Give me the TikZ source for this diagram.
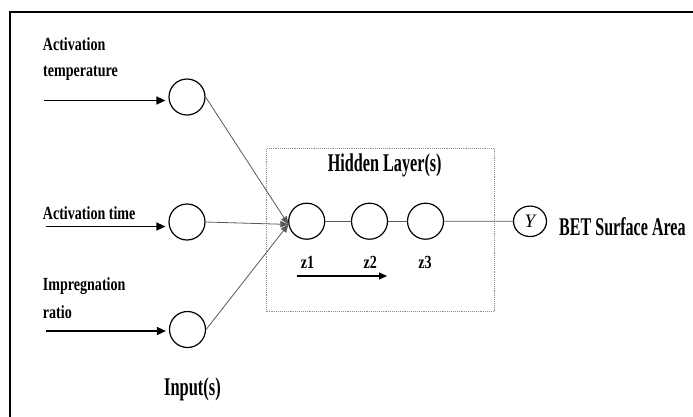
\documentclass[tikz,border=0pt]{standalone}
\usepackage{fontspec}
\setmainfont{Liberation Serif}
\usetikzlibrary{arrows.meta,shapes.geometric}
\newcommand\narrow[2]{\scalebox{#1}[1]{#2}}
\tikzset{
  smalltext/.style={inner sep=0pt, anchor=base west,
    font=\fontsize{18.5}{20}\selectfont\bfseries},
  bigtext/.style={inner sep=0pt, anchor=base,
    font=\fontsize{25.5}{28}\selectfont\bfseries},
  neuron/.style={circle, draw=black, line width=1.2pt, minimum size=36pt, inner sep=0pt},
  outneuron/.style={ellipse, draw=black, line width=1.2pt, minimum width=33pt,
    minimum height=30.5pt, inner sep=0pt, font=\fontsize{19}{20}\selectfont\itshape},
  feed/.style={line width=1.5pt, -{Triangle[length=9pt,width=8pt]}},
  link/.style={line width=0.8pt, draw=black!65},
  linkarrow/.style={link, -{Triangle[length=8pt,width=6.5pt]}, draw=black!65},
  hidbox/.style={draw=black!45, densely dotted, line width=0.9pt, inner sep=0pt},
  frame/.style={line width=2.2pt, draw=black}
}
\begin{document}
\begin{tikzpicture}[x=1pt,y=-1pt]
\useasboundingbox (0,0) rectangle (693,416);
\fill[white] (0,0) rectangle (693,416);
% outer frame (left and top edges inside the page)
\draw[frame] (10,420) |- (700,12);

% input neurons
\node[neuron] (in1) at (187,97) {};
\node[neuron] (in2) at (187,222) {};
\node[neuron] (in3) at (187.5,329.5) {};

% input labels
\node[smalltext] (l1a) at (42.7,50.7) {\narrow{0.76}{Activation}};
\node[smalltext] (l1b) at (43,76.5) {\narrow{0.76}{temperature}};
\node[smalltext] (l2) at (42.7,219.3) {\narrow{0.76}{Activation time}};
\node[smalltext] (l3a) at (42.7,290) {\narrow{0.76}{Impregnation}};
\node[smalltext] (l3b) at (42.7,318) {\narrow{0.76}{ratio}};

% feeding arrows
\coordinate (s1) at (44,100.5);
\coordinate (s2) at (46,226.5);
\coordinate (s3) at (46,331);
\draw[feed, shorten >=3pt] (s1) -- (s1 -| in1.west);
\draw[feed, shorten >=3pt] (s2) -- (s2 -| in2.west);
\draw[feed, shorten >=3pt] (s3) -- (s3 -| in3.west);

% hidden layer box
\node[hidbox, minimum width=227.6pt, minimum height=163.4pt] (hbox) at (380.5,230) {};
\node[bigtext] (htitle) at (384.7,171.7) {\narrow{0.635}{Hidden Layer(s)}};

% hidden neurons
\node[neuron] (h1) at (306.7,221.2) {};
\node[neuron] (h2) at (369.5,221.2) {};
\node[neuron] (h3) at (425.5,221.2) {};
\node[smalltext, anchor=base] (z1) at (307.5,268.3) {\narrow{0.76}{z1}};
\node[smalltext, anchor=base] (z2) at (370.3,268.3) {\narrow{0.76}{z2}};
\node[smalltext, anchor=base] (z3) at (425,268.3) {\narrow{0.76}{z3}};
\coordinate (za) at (296.7,276);
\coordinate (zb) at (387,276);
\draw[line width=1.2pt, -{Triangle[length=8pt,width=7pt]}] (za) -- (zb);

% output neuron
\node[outneuron] (yout) at (530,221.3) {Y};
\node[bigtext, anchor=base west] (ylbl) at (559,235) {\narrow{0.63}{BET Surface Area}};

% connections
\draw[linkarrow] (in1.east) -- (h1.190);
\draw[linkarrow] (in2.east) -- (h1.190);
\draw[linkarrow] (in3.east) -- (h1.190);
\draw[link] (h1) -- (h2);
\draw[link] (h2) -- (h3);
\draw[link] (h3) -- (yout);

% layer caption
\node[bigtext] (inlbl) at (192.5,395.7) {\narrow{0.645}{Input(s)}};
\end{tikzpicture}
\end{document}
